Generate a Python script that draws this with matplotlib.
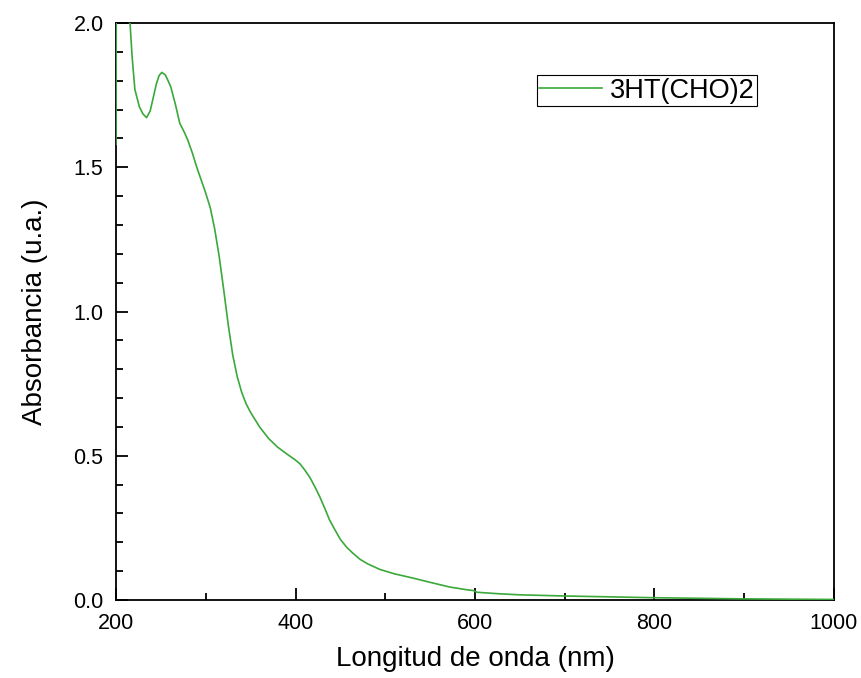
import matplotlib
matplotlib.use('Agg')
import matplotlib.pyplot as plt
import numpy as np
from matplotlib.ticker import MultipleLocator, FormatStrFormatter

plt.rcParams['font.family'] = ['Liberation Sans', 'DejaVu Sans']

# espectro UV-Vis
longitud = [200, 200.5, 213, 215.6, 218, 221, 226, 230, 234, 238, 241, 245, 248, 251,
            255, 258, 261, 266, 271, 276, 280, 285, 290, 295, 300, 305, 310,
            315, 320, 325, 330, 335, 340, 345, 350, 360, 370, 380, 390, 400,
            405, 410, 416, 422, 427, 433, 438, 444, 450, 457, 464, 472, 480,
            494, 510, 531, 553, 572, 590, 598, 602, 625, 650, 700, 750, 799,
            850, 899, 950, 1000]
absorbancia = [1.58, 2.5, 2.5, 2.0, 1.88, 1.77, 1.71, 1.685, 1.672, 1.695, 1.735,
               1.79, 1.818, 1.829, 1.82, 1.80, 1.779, 1.72, 1.653, 1.622, 1.594,
               1.55, 1.50, 1.455, 1.41, 1.36, 1.285, 1.19, 1.075, 0.955, 0.85,
               0.775, 0.72, 0.68, 0.65, 0.60, 0.56, 0.53, 0.507, 0.485, 0.472,
               0.452, 0.425, 0.39, 0.358, 0.315, 0.277, 0.243, 0.21, 0.183,
               0.162, 0.141, 0.126, 0.106, 0.091, 0.076, 0.059, 0.045, 0.036,
               0.033, 0.027, 0.022, 0.018, 0.014, 0.011, 0.008, 0.006, 0.004,
               0.003, 0.002]

fig = plt.figure(figsize=(8.62, 6.78), dpi=100)
ax = fig.add_axes([0.1346, 0.115, 0.8329, 0.851])

ax.plot(longitud, absorbancia, color='#3aa83a', linewidth=1.2, label='3HT(CHO)2',
        zorder=3)

ax.set_xlim(200, 1000)
ax.set_ylim(0, 2.0)
ax.xaxis.set_major_locator(MultipleLocator(200))
ax.xaxis.set_minor_locator(MultipleLocator(100))
ax.yaxis.set_major_locator(MultipleLocator(0.5))
ax.yaxis.set_minor_locator(MultipleLocator(0.1))
ax.yaxis.set_major_formatter(FormatStrFormatter('%.1f'))

ax.tick_params(which='both', direction='in', top=False, right=False, width=1.3,
               labelsize=15.5, colors='black')
ax.tick_params(which='major', length=8.5, pad=9)
ax.tick_params(which='minor', length=5)
for s in ax.spines.values():
    s.set_linewidth(1.3)

ax.set_xlabel('Longitud de onda (nm)', fontsize=20, labelpad=9)
ax.set_ylabel('Absorbancia (u.a.)', fontsize=20, labelpad=18)

leg = ax.legend(loc='upper left', bbox_to_anchor=(0.586, 0.910), fontsize=19.5,
                fancybox=False, framealpha=1, edgecolor='black', handlelength=2.3,
                borderpad=0.1, handletextpad=0.3, borderaxespad=0)
leg.get_frame().set_linewidth(0.8)

fig.savefig('out.png', dpi=100)
